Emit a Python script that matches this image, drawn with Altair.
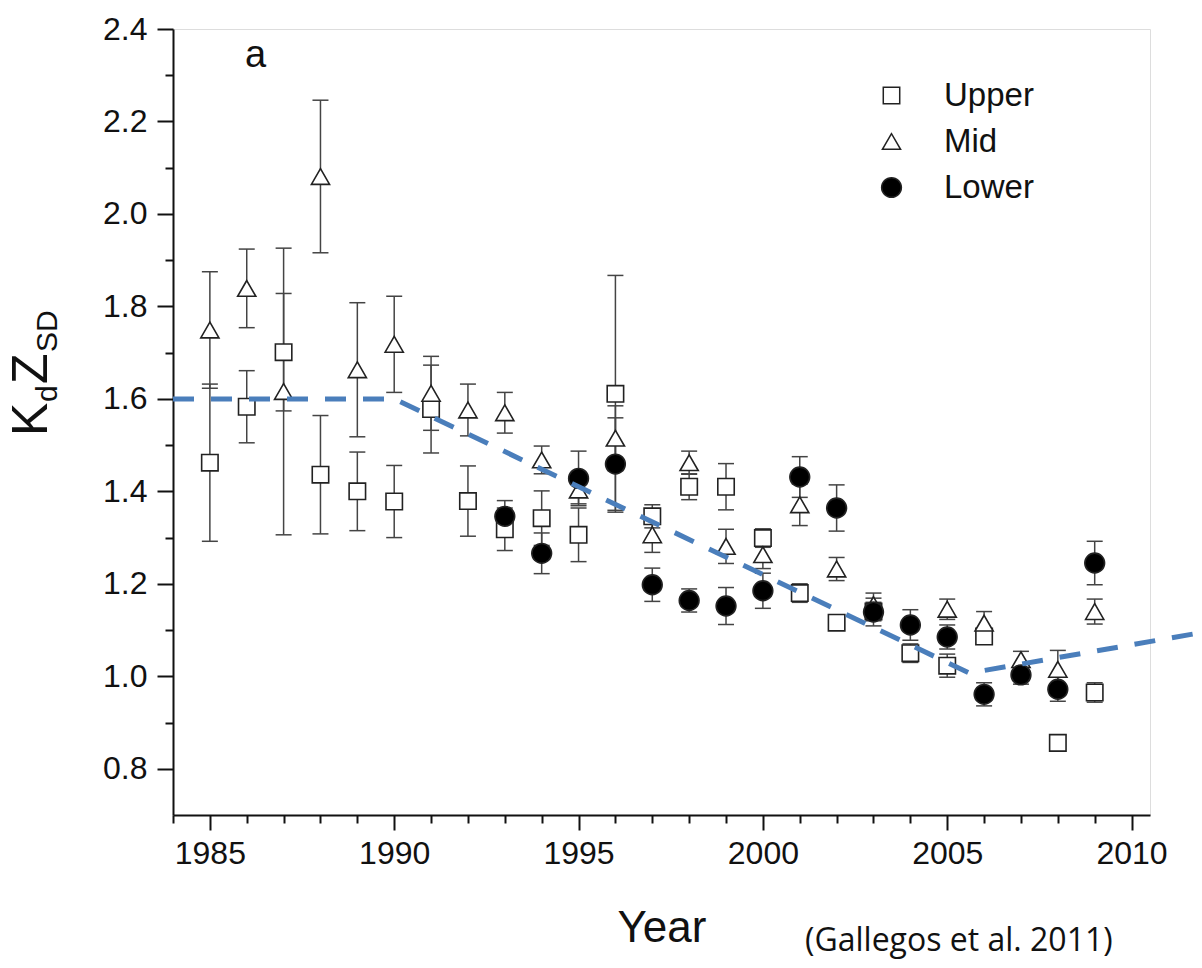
import altair as alt
import pandas as pd

# ---------------- data ----------------
upper_years = [1985, 1986, 1987, 1988, 1989, 1990, 1991, 1992, 1993, 1994, 1995, 1996,
               1997, 1998, 1999, 2000, 2001, 2002, 2003, 2004, 2005, 2006, 2008, 2009]
upper_vals = [1.462, 1.583, 1.701, 1.436, 1.400, 1.378, 1.578, 1.379, 1.318, 1.342, 1.306, 1.611,
              1.346, 1.410, 1.410, 1.299, 1.180, 1.116, 1.140, 1.050, 1.023, 1.086, 0.856, 0.965]
upper_errs = [0.170, 0.078, 0.127, 0.128, 0.085, 0.078, 0.095, 0.076, 0.046, 0.059, 0.058, 0.256,
              0.025, 0.028, 0.050, 0.020, 0.020, 0.010, 0.020, 0.020, 0.025, 0.012, 0.010, 0.021]

mid_years = [1985, 1986, 1987, 1988, 1989, 1990, 1991, 1992, 1993, 1994, 1995, 1996,
             1997, 1998, 1999, 2000, 2001, 2002, 2003, 2005, 2006, 2007, 2008, 2009]
mid_vals = [1.749, 1.839, 1.616, 2.081, 1.663, 1.718, 1.612, 1.576, 1.570, 1.468, 1.403, 1.515,
            1.306, 1.462, 1.281, 1.263, 1.371, 1.232, 1.155, 1.145, 1.115, 1.036, 1.015, 1.140]
mid_errs = [0.126, 0.085, 0.310, 0.165, 0.145, 0.104, 0.080, 0.056, 0.044, 0.030, 0.030, 0.070,
            0.038, 0.025, 0.037, 0.030, 0.045, 0.025, 0.025, 0.022, 0.025, 0.018, 0.041, 0.027]

lower_years = [1993, 1994, 1995, 1996, 1997, 1998, 1999, 2000, 2001, 2002, 2003, 2004,
               2005, 2006, 2007, 2008, 2009]
lower_vals = [1.346, 1.266, 1.428, 1.459, 1.198, 1.164, 1.152, 1.185, 1.431, 1.364, 1.139, 1.111,
              1.085, 0.961, 1.003, 0.972, 1.245]
lower_errs = [0.034, 0.044, 0.059, 0.100, 0.036, 0.025, 0.040, 0.038, 0.044, 0.050, 0.030, 0.033,
              0.026, 0.025, 0.020, 0.026, 0.047]

site_names = ["Upper", "Mid", "Lower"]
site_shapes = ["square", "triangle-up", "circle"]
site_fills = ["white", "white", "black"]
site_strokes = ["#222", "#222", "#222"]
site_sizes = [270, 390, 290]

trend_years = [1984, 1990, 2005.6, 2012.0]
trend_vals = [1.6, 1.6, 1.007, 1.096]

x_ticks = list(range(1984, 2011))
y_ticks = [round(0.8 + 0.1 * i, 1) for i in range(17)]

panel_label = ["a"]
x_title = "Year"
citation = ["(Gallegos et al. 2011)"]
ytitle_big = ["K", "Z"]
ytitle_sub = ["d", "SD"]

# ---------------- tables ----------------
rows = []
for name, yrs, vals, errs in [("Upper", upper_years, upper_vals, upper_errs),
                              ("Mid", mid_years, mid_vals, mid_errs),
                              ("Lower", lower_years, lower_vals, lower_errs)]:
    for yr, v, e in zip(yrs, vals, errs):
        rows.append({"site": name, "year": yr, "value": v, "lo": v - e, "hi": v + e,
                     "order": site_names.index(name)})
df = pd.DataFrame(rows)
caps = pd.concat([
    df[["site", "year"]].assign(value=df["lo"]),
    df[["site", "year"]].assign(value=df["hi"]),
])
trend = pd.DataFrame({"year": trend_years, "value": trend_vals})

FONT = "Liberation Sans"
W, H = 977, 786

xs = alt.Scale(domain=[1984, 2010.5], nice=False, zero=False)
ys = alt.Scale(domain=[0.7, 2.4], nice=False, zero=False)

x_axis = alt.Axis(
    values=x_ticks,
    tickSize={"condition": {"test": "datum.value % 5 === 0", "value": 15}, "value": 8},
    labelExpr="datum.value % 5 === 0 ? format(datum.value, 'd') : ''",
    labelFont=FONT, labelFontSize=32, labelColor="#111", labelPadding=8,
    labelOverlap=False, labelFlush=False,
    domainColor="#111", domainWidth=2, tickColor="#111", tickWidth=2,
    grid=False, title=x_title, titleFont=FONT, titleFontSize=44,
    titleFontWeight="normal", titleColor="#111", titleY=126,
    titleBaseline="alphabetic",
)
y_axis = alt.Axis(
    values=y_ticks,
    tickSize={"condition": {"test": "round(datum.value*10) % 2 === 0", "value": 16}, "value": 8},
    labelExpr="round(datum.value*10) % 2 === 0 ? format(datum.value, '.1f') : ''",
    labelFont=FONT, labelFontSize=32, labelColor="#111", labelPadding=10,
    labelOverlap=False, labelFlush=False,
    domainColor="#111", domainWidth=2, tickColor="#111", tickWidth=2,
    grid=False, title=None,
)

X = alt.X("year:Q", scale=xs, axis=x_axis)
Y = alt.Y("value:Q", scale=ys, axis=y_axis)

bars = alt.Chart(df).mark_rule(color="#444", strokeWidth=1.5).encode(
    x=X, y=alt.Y("lo:Q", scale=ys, axis=y_axis), y2="hi:Q"
)
cap_marks = alt.Chart(caps).mark_tick(
    orient="horizontal", size=16, thickness=1.5, color="#444", opacity=1
).encode(x=X, y=Y)

leg = alt.Legend(
    orient="none", legendX=702, legendY=50, title=None,
    labelFont=FONT, labelFontSize=33, labelColor="#111",
    labelOffset=36, rowPadding=12, padding=0,
    symbolStrokeWidth=1.5, symbolOpacity=1,
)
points = alt.Chart(df).mark_point(
    filled=True, strokeWidth=1.6, opacity=1, fillOpacity=1
).encode(
    x=X, y=Y,
    shape=alt.Shape("site:N", scale=alt.Scale(domain=site_names, range=site_shapes), legend=leg),
    fill=alt.Fill("site:N", scale=alt.Scale(domain=site_names, range=site_fills), legend=leg),
    stroke=alt.Stroke("site:N", scale=alt.Scale(domain=site_names, range=site_strokes), legend=leg),
    size=alt.Size("site:N", scale=alt.Scale(domain=site_names, range=site_sizes), legend=leg),
    order=alt.Order("order:Q"),
)

trend_line = alt.Chart(trend).mark_line(
    color="#4a7ebb", strokeWidth=5, strokeDash=[21, 17], clip=False
).encode(x=X, y=Y)

label_a = alt.Chart(pd.DataFrame({"t": panel_label})).mark_text(
    font=FONT, fontSize=38, align="left", baseline="alphabetic", color="#111"
).encode(text="t:N", x=alt.value(72), y=alt.value(38))

cite = alt.Chart(pd.DataFrame({"t": citation})).mark_text(
    font="Open Sans", fontSize=32, align="left", baseline="alphabetic", color="#111"
).encode(text="t:N", x=alt.value(632), y=alt.value(922))

big_df = pd.DataFrame({"t": ytitle_big, "py": [407, 355]})
sub_df = pd.DataFrame({"t": ytitle_sub, "py": [373, 323]})
ytitle_big_marks = alt.Chart(big_df).mark_text(
    font=FONT, fontSize=50, angle=270, align="left", baseline="alphabetic", color="#111"
).encode(text="t:N", x=alt.value(-126), y=alt.Y("py:Q", scale=None))
ytitle_sub_marks = alt.Chart(sub_df).mark_text(
    font=FONT, fontSize=30, angle=270, align="left", baseline="alphabetic", color="#111"
).encode(text="t:N", x=alt.value(-116), y=alt.Y("py:Q", scale=None))

chart = alt.layer(
    bars, cap_marks, points, trend_line, label_a, cite, ytitle_big_marks, ytitle_sub_marks
).properties(
    width=W, height=H,
    padding={"left": 165, "top": 21, "right": 44, "bottom": 145},
    autosize=alt.AutoSizeParams(type="none"),
).configure_view(stroke=None).configure(background="white")

chart.save("out.html", embed_options={"renderer": "svg", "actions": False})
